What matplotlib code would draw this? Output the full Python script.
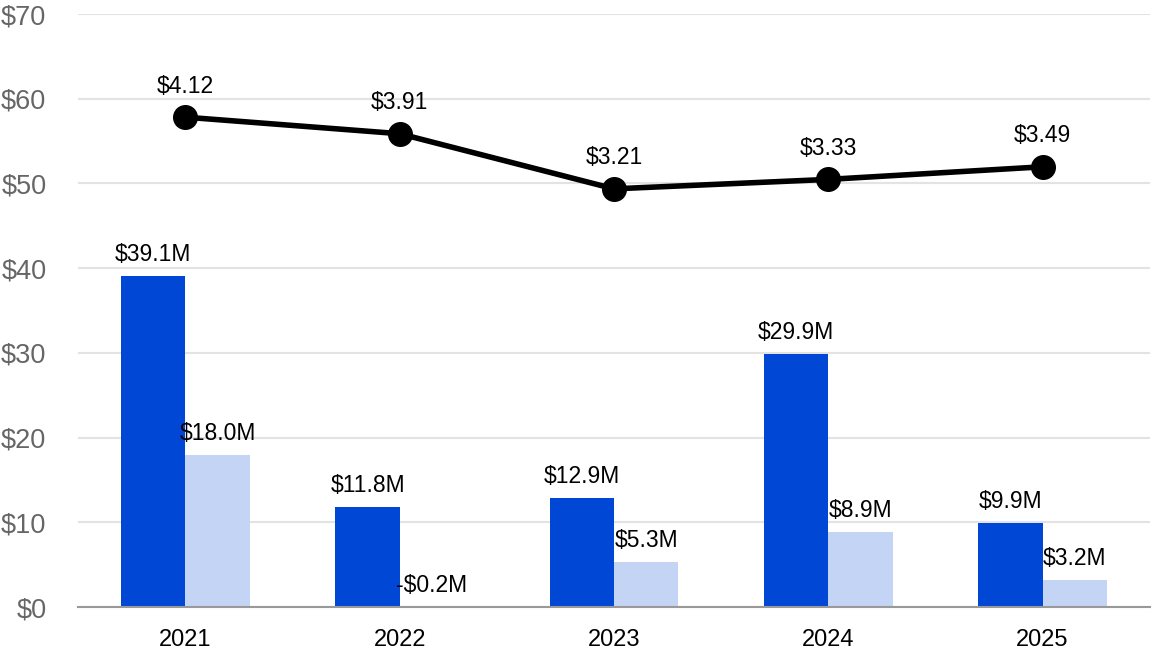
import matplotlib
matplotlib.use("Agg")
import matplotlib.pyplot as plt
import numpy as np

# --- Data ---
years = ["2021", "2022", "2023", "2024", "2025"]
dark_vals = [39.1, 11.8, 12.9, 29.9, 9.9]
light_vals = [18.0, -0.2, 5.3, 8.9, 3.2]
line_vals = [4.12, 3.91, 3.21, 3.33, 3.49]
yticks = [0, 10, 20, 30, 40, 50, 60, 70]

DARK = "#0047d6"
LIGHT = "#c3d4f5"

plt.rcParams['font.family'] = ['Liberation Sans', 'DejaVu Sans']

fig = plt.figure(figsize=(11.52, 6.52), dpi=100)
ax = fig.add_axes([0.068, 0.069, 0.93, 0.9095])

x = np.arange(len(years))
w = 0.30

ax.bar(x - w / 2, dark_vals, w, color=DARK, zorder=3)
ax.bar(x + w / 2, light_vals, w, color=LIGHT, zorder=3)

for xi, v in zip(x - w / 2, dark_vals):
    ax.annotate(f"${v:.1f}M", (xi, max(v, 0)), xytext=(0, 7), textcoords="offset points",
                ha="center", va="bottom", fontsize=16.5, color="black", zorder=5)
for xi, v in zip(x + w / 2, light_vals):
    s = f"-${abs(v):.1f}M" if v < 0 else f"${v:.1f}M"
    ax.annotate(s, (xi, max(v, 0)), xytext=(0, 7), textcoords="offset points",
                ha="center", va="bottom", fontsize=16.5, color="black", zorder=5)

ax.set_xlim(-0.5, len(years) - 0.5)
ax.set_ylim(0, 70)
ax.set_yticks(yticks)
ax.set_yticklabels([f"${t}" for t in yticks], fontsize=19.5, color="#666666")
ax.set_xticks(x)
ax.set_xticklabels(years, fontsize=17, color="black")
ax.tick_params(axis="y", length=0, pad=23)
ax.tick_params(axis="x", length=0, pad=16)
ax.grid(axis="y", color="#e3e3e3", lw=1.5, zorder=0)
for side in ["top", "right", "left"]:
    ax.spines[side].set_visible(False)
ax.spines["bottom"].set_color("#999999")
ax.spines["bottom"].set_linewidth(1.5)
ax.spines["bottom"].set_zorder(4)

# hidden secondary scale for the line
ax2 = ax.twinx()
ax2.set_ylim(-2.1, 5.43)
ax2.plot(x, line_vals, color="black", lw=4, marker="o", markersize=17, zorder=5)
for xi, v in zip(x, line_vals):
    ax2.annotate(f"${v:.2f}", (xi, v), xytext=(0, 14), textcoords="offset points",
                 ha="center", va="bottom", fontsize=16.5, color="black")
ax2.axis("off")

fig.savefig("out.png", dpi=100)
